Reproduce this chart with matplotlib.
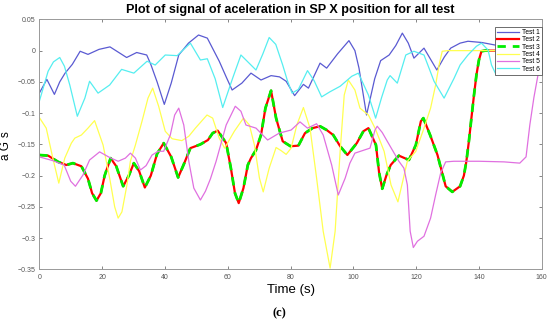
import matplotlib
matplotlib.use('Agg')
import matplotlib.pyplot as plt

plt.rcParams['font.family'] = ['Liberation Sans', 'DejaVu Sans']

# Test 1
t1 = [0, 2.4, 4.8, 6.5, 8.2, 10.5, 13, 15.5, 19, 22.5, 25, 27.8, 31, 34.2, 35.5, 37.5, 39.8, 42, 44.4,
      47.5, 50.7, 53.5, 57.3, 59.5, 61.4, 64.5, 67.4, 70.6, 73.8, 76.5, 78.6, 81.3, 84.1, 85.7, 89.4, 91.5,
      95, 98.6, 100.5, 101.8, 104.2, 106.8, 108.7, 111.4, 113.5, 115.6, 117.5, 119.3, 122.5, 126.6, 129,
      131, 134, 136.5, 140.9, 145.1, 150, 155, 160]
v1 = [-0.068, -0.046, -0.070, -0.050, -0.036, -0.022, -0.001, -0.006, 0.002, 0.006, -0.002, -0.011, -0.003,
      -0.007, -0.022, -0.050, -0.086, -0.052, -0.007, 0.012, 0.025, 0.020, -0.017, -0.042, -0.063, -0.052,
      -0.036, -0.047, -0.040, -0.042, -0.049, -0.072, -0.054, -0.060, -0.020, -0.028, -0.005, 0.016, 0.000,
      -0.028, -0.103, -0.045, -0.016, -0.007, 0.008, 0.028, 0.012, -0.012, 0.004, -0.031, -0.010, 0.004,
      0.012, 0.015, 0.013, 0.009, 0.005, 0.002, 0.000]

# Test 2 / Test 3 (same signal)
t2 = [0, 2.8, 6, 8.6, 10.7, 13.4, 15.5, 16.8, 18.2, 19.6, 20.8, 22.7, 24.5, 26.7, 28.5, 30.1, 31.8, 33.6,
      35.5, 37.5, 39.6, 42, 44.2, 46, 48.1, 51.3, 53.7, 55.2, 56.8, 59.5, 61, 62.3, 63.5, 65, 66.4, 67.4,
      69, 70.6, 72, 73.8, 75.4, 77.5, 80, 82.5, 84.6, 87, 89.4, 91.5, 93.6, 95.8, 98.1, 101.1, 103.2,
      104.8, 107.2, 108.2, 109.2, 110.5, 111.9, 114.5, 117.7, 119.9, 121.5, 122.3, 124.6, 126.8, 129.4,
      131.5, 134, 135.2, 136, 136.8, 137.6, 138.4, 139.2, 140, 140.8, 142, 145, 150, 155, 160]
v2 = [-0.167, -0.168, -0.178, -0.183, -0.180, -0.185, -0.205, -0.228, -0.240, -0.228, -0.200, -0.172,
      -0.185, -0.217, -0.200, -0.180, -0.193, -0.219, -0.200, -0.165, -0.148, -0.170, -0.203, -0.182,
      -0.156, -0.150, -0.143, -0.132, -0.128, -0.148, -0.188, -0.228, -0.244, -0.220, -0.183, -0.172,
      -0.159, -0.135, -0.092, -0.064, -0.108, -0.145, -0.153, -0.152, -0.132, -0.124, -0.121, -0.127,
      -0.135, -0.153, -0.167, -0.148, -0.129, -0.124, -0.151, -0.195, -0.221, -0.200, -0.183, -0.168,
      -0.175, -0.151, -0.113, -0.108, -0.137, -0.167, -0.217, -0.226, -0.217, -0.200, -0.177, -0.145,
      -0.108, -0.072, -0.039, -0.015, -0.001, 0.000, 0.000, 0.000, 0.000, 0.000]

# Test 4
t4 = [0, 2.2, 4.3, 6.2, 8.1, 10.2, 11.3, 13.4, 15.5, 17.6, 20.3, 22.4, 24, 25.1, 26.3, 27.9, 29, 30.6,
      32.7, 34.6, 36.1, 38, 40.1, 42.3, 45.4, 47.6, 49.7, 53.4, 55.2, 57.3, 59, 62.1, 65, 66.9, 68.5,
      70.1, 71.3, 73.2, 75.4, 77, 78.6, 80.2, 82, 84.1, 86.2, 88.3, 90.4, 92.6, 94.2, 95.8, 97.1, 98.4,
      100.5, 102.1, 104.8, 107, 109.8, 112, 114.2, 117.2, 119.9, 122.5, 124.6, 126.2, 127.3, 128.3, 130,
      135, 140, 145, 150, 155, 160]
v4 = [-0.107, -0.124, -0.172, -0.212, -0.172, -0.148, -0.140, -0.135, -0.124, -0.112, -0.151, -0.204,
      -0.250, -0.268, -0.258, -0.215, -0.177, -0.151, -0.113, -0.076, -0.060, -0.089, -0.129, -0.141,
      -0.144, -0.137, -0.124, -0.103, -0.108, -0.140, -0.156, -0.129, -0.108, -0.119, -0.151, -0.204,
      -0.226, -0.188, -0.155, -0.160, -0.166, -0.156, -0.119, -0.091, -0.124, -0.204, -0.289, -0.348,
      -0.289, -0.161, -0.071, -0.047, -0.063, -0.092, -0.103, -0.125, -0.161, -0.215, -0.242, -0.177,
      -0.161, -0.124, -0.092, -0.055, -0.023, -0.001, 0.000, 0.000, 0.000, 0.000, 0.000, 0.000, 0.000]

# Test 5
t5 = [0, 4.3, 7.9, 10, 11.5, 13.9, 16, 19.2, 22.4, 25.1, 27.4, 29, 30.6, 32.2, 34, 35.9, 37.9, 39.6,
      41.7, 43.1, 44.4, 46, 47.6, 49.2, 51.3, 52.9, 54.5, 56.3, 59.5, 62.4, 64.2, 65.8, 69, 72.7, 76.4,
      80.2, 83, 85.4, 88.3, 90.4, 93.1, 95.2, 97.4, 98.9, 100.5, 103.5, 105.3, 106.9, 107.6, 109.2,
      110.8, 114.5, 116.1, 117.2, 118.1, 119.1, 120.4, 122.5, 124.6, 126.2, 127.8, 129.4, 132, 140, 148,
      153, 155, 156.2, 157.5, 158.8, 160]
v5 = [-0.170, -0.176, -0.183, -0.209, -0.217, -0.199, -0.175, -0.162, -0.171, -0.177, -0.172, -0.164,
      -0.172, -0.191, -0.184, -0.167, -0.161, -0.161, -0.135, -0.103, -0.092, -0.119, -0.177, -0.220,
      -0.239, -0.225, -0.205, -0.177, -0.119, -0.089, -0.097, -0.119, -0.124, -0.143, -0.132, -0.127,
      -0.114, -0.124, -0.117, -0.135, -0.183, -0.231, -0.204, -0.180, -0.164, -0.159, -0.156, -0.127,
      -0.121, -0.131, -0.145, -0.177, -0.188, -0.215, -0.289, -0.315, -0.305, -0.297, -0.268, -0.231,
      -0.196, -0.178, -0.177, -0.177, -0.178, -0.180, -0.170, -0.119, -0.075, -0.039, -0.025]

# Test 6
t6 = [0, 2.8, 4.5, 6.5, 8, 9.7, 12.1, 14.5, 16, 18.7, 22.4, 26.2, 30.1, 34.3, 36.9, 40.1, 43.9, 48.1,
      51.3, 53.5, 56, 58.4, 61.5, 64.2, 69, 71.2, 73.2, 75.3, 77.5, 79, 80.5, 82.5, 85.4, 87.5, 89.9,
      92.5, 95.8, 99.5, 101.6, 104.8, 107.1, 109, 110.8, 111.7, 114, 116.7, 119.3, 122.5, 125.7, 128.9,
      132.1, 134, 136.5, 139.2, 140.8, 142.9, 144, 145.5, 146.6, 149, 152, 156, 160]
v6 = [-0.081, -0.033, -0.018, -0.011, -0.025, -0.055, -0.105, -0.076, -0.049, -0.068, -0.055, -0.030,
      -0.036, -0.017, -0.023, -0.007, -0.008, 0.012, -0.015, -0.013, -0.045, -0.091, -0.045, -0.007,
      -0.031, -0.005, 0.021, 0.010, -0.023, -0.048, -0.068, -0.062, -0.032, -0.048, -0.074, -0.066,
      -0.057, -0.041, -0.036, -0.071, -0.108, -0.075, -0.047, -0.040, -0.052, -0.007, -0.001, -0.007,
      -0.049, -0.076, -0.044, -0.023, -0.007, 0.007, 0.012, 0.001, -0.023, -0.039, -0.033, -0.012,
      -0.004, -0.003, -0.003]

fig = plt.figure(figsize=(5.5, 3.23), dpi=100)
ax = fig.add_axes([0.0715, 0.166, 0.9135, 0.774])

ax.plot(t1, v1, color='#5a5ad2', lw=0.9, label='Test 1')
ax.plot(t2, v2, color='#ff0000', lw=1.6, label='Test 2')
ax.plot(t2, v2, color='#00ee00', lw=2.0, ls=(0, (3, 2.5)), label='Test 3')
ax.plot(t4, v4, color='#ffff50', lw=0.9, label='Test 4')
ax.plot(t5, v5, color='#e070e0', lw=0.9, label='Test 5')
ax.plot(t6, v6, color='#55eef0', lw=0.9, label='Test 6')

ax.set_xlim(0, 160)
ax.set_ylim(-0.35, 0.05)
ax.set_xticks(range(0, 161, 20))
yt = [-0.35, -0.3, -0.25, -0.2, -0.15, -0.1, -0.05, 0, 0.05]
ax.set_yticks(yt)
ax.set_yticklabels(['\u22120.35', '\u22120.3', '\u22120.25', '\u22120.2', '\u22120.15', '\u22120.1',
                    '\u22120.05', '0', '0.05'])
ax.tick_params(direction='in', top=True, right=True, length=2.5, width=0.5,
               labelsize=5, colors='#555555', pad=3)
for s in ax.spines.values():
    s.set_color('#999999')
    s.set_linewidth(0.7)

leg = ax.legend(loc='upper right', bbox_to_anchor=(1.0, 0.97), borderaxespad=0, fontsize=4.8,
                labelspacing=0.05, handlelength=3.2, handletextpad=0.5, borderpad=0.3,
                fancybox=False, framealpha=1)
leg.get_frame().set_edgecolor('#555555')
leg.get_frame().set_linewidth(0.6)

fig.text(290.5 / 550, 1 - 9.5 / 323, 'Plot of signal of aceleration in SP X position for all test',
         ha='center', va='center', fontsize=9.1, fontweight='bold')
fig.text(291 / 550, 1 - 290 / 323, 'Time (s)', ha='center', va='center', fontsize=9.5)
fig.text(6 / 550, 1 - 146 / 323, 'a G\u00b4s', ha='center', va='center', rotation=90, fontsize=8.5)
fig.text(279 / 550, 1 - 313 / 323, '(c)', ha='center', va='center', fontsize=9,
         fontweight='bold', family=['Liberation Serif', 'DejaVu Serif'])

fig.savefig('out.png', dpi=100)
